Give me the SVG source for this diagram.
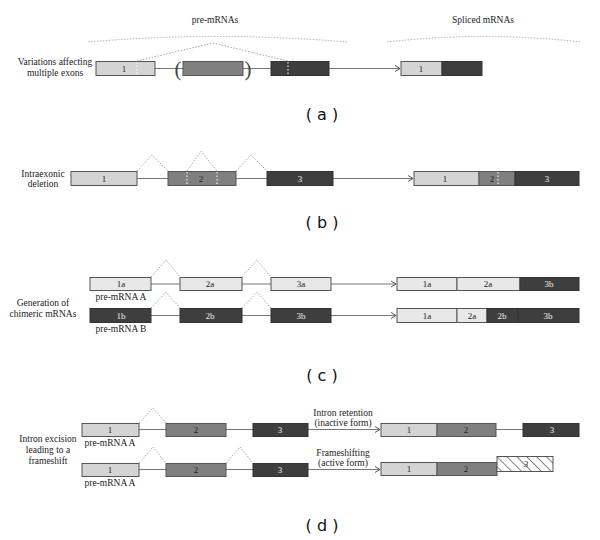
<svg xmlns="http://www.w3.org/2000/svg" width="600" height="540" viewBox="0 0 600 540">
<defs>
<marker id="arr" markerWidth="8" markerHeight="8" refX="6" refY="4" orient="auto" markerUnits="userSpaceOnUse">
<path d="M1,1 L6,4 L1,7" fill="none" stroke="#555" stroke-width="1"/>
</marker>
<pattern id="hatch" patternUnits="userSpaceOnUse" width="7" height="7" patternTransform="rotate(-45)">
<rect width="7" height="7" fill="#fff"/>
<line x1="0" y1="0" x2="0" y2="7" stroke="#333" stroke-width="1.2"/>
</pattern>
</defs>
<style>
.lt{fill:#d4d4d4;stroke:#555;stroke-width:1}
.lt2{fill:#e8e8e8;stroke:#555;stroke-width:1}
.md{fill:#808080;stroke:#555;stroke-width:1}
.dk{fill:#3e3e3e;stroke:#333;stroke-width:1}
.ln{stroke:#777;stroke-width:1;fill:none}
.dot{stroke:#aaa;stroke-width:1;stroke-dasharray:1.5 1.5;fill:none}
.wd{stroke:#fff;stroke-width:1;stroke-dasharray:1.5 2;fill:none}
.t{font-family:"Liberation Serif",serif;font-size:9px;fill:#222;text-anchor:middle}
.tw{font-family:"Liberation Serif",serif;font-size:9px;fill:#eee;text-anchor:middle}
.lb{font-family:"Liberation Serif",serif;font-size:9.5px;fill:#222;text-anchor:middle}
.pl{font-family:"DejaVu Sans",sans-serif;font-size:16px;fill:#111;text-anchor:middle}
.par{font-family:"Liberation Serif",serif;font-size:21px;fill:#444;text-anchor:middle}
</style>

<g id="headers">
<text class="lb" x="215" y="23">pre-mRNAs</text>
<text class="lb" x="483" y="23">Spliced mRNAs</text>
<path class="dot" d="M88,42 Q215,31 348,42"/>
<path class="dot" d="M387,42 Q483,31 581,42"/>
</g>

<g id="connectors">
<!-- row a -->
<line class="ln" x1="155" y1="68.5" x2="183" y2="68.5"/>
<line class="ln" x1="243" y1="68.5" x2="271" y2="68.5"/>
<line class="ln" x1="329" y1="68.5" x2="400" y2="68.5" marker-end="url(#arr)"/>
<polyline class="dot" points="137,61 213,43 288,61"/>
<!-- row b -->
<line class="ln" x1="137" y1="178.5" x2="168" y2="178.5"/>
<line class="ln" x1="236" y1="178.5" x2="267" y2="178.5"/>
<line class="ln" x1="333" y1="178.5" x2="413" y2="178.5" marker-end="url(#arr)"/>
<polyline class="dot" points="137,171 152,155 168,171"/>
<polyline class="dot" points="187,171 201,151 217,171"/>
<polyline class="dot" points="236,171 251,155 267,171"/>
<!-- row c -->
<line class="ln" x1="151" y1="284" x2="180" y2="284"/>
<line class="ln" x1="242" y1="284" x2="271" y2="284"/>
<line class="ln" x1="331" y1="284" x2="396" y2="284" marker-end="url(#arr)"/>
<polyline class="dot" points="151,277 166,260 180,277"/>
<polyline class="dot" points="242,277 257,260 271,277"/>
<line class="ln" x1="151" y1="315.5" x2="180" y2="315.5"/>
<line class="ln" x1="242" y1="315.5" x2="271" y2="315.5"/>
<line class="ln" x1="331" y1="315.5" x2="396" y2="315.5" marker-end="url(#arr)"/>
<polyline class="dot" points="151,308 166,292 180,308"/>
<polyline class="dot" points="242,308 257,292 271,308"/>
<!-- row d -->
<line class="ln" x1="139" y1="429.5" x2="166" y2="429.5"/>
<line class="ln" x1="226" y1="429.5" x2="253" y2="429.5"/>
<line class="ln" x1="308" y1="429.5" x2="380" y2="429.5" marker-end="url(#arr)"/>
<polyline class="dot" points="139,423 153,408 166,423"/>
<line class="ln" x1="496" y1="429.5" x2="523" y2="429.5"/>
<line class="ln" x1="139" y1="469.5" x2="166" y2="469.5"/>
<line class="ln" x1="226" y1="469.5" x2="253" y2="469.5"/>
<line class="ln" x1="308" y1="469.5" x2="380" y2="469.5" marker-end="url(#arr)"/>
<polyline class="dot" points="139,463 153,447 166,463"/>
<polyline class="dot" points="226,463 240,447 253,463"/>
</g>

<!-- panel a -->
<g id="label-a">
<text class="lb" x="55" y="65">Variations affecting</text>
<text class="lb" x="55" y="76">multiple exons</text>
</g>
<g id="a-exon1">
<rect class="lt" x="96" y="61.5" width="59" height="14"/>
<line class="wd" x1="137" y1="62" x2="137" y2="75"/>
<text class="t" x="124" y="72">1</text>
</g>
<g id="a-exon2">
<text class="par" x="178" y="76">(</text>
<rect class="md" x="183" y="61.5" width="60" height="14"/>
<text class="par" x="248" y="76">)</text>
</g>
<g id="a-exon3">
<rect class="dk" x="271" y="61.5" width="58" height="14"/>
<line class="wd" x1="288" y1="62" x2="288" y2="75"/>
</g>
<g id="a-spliced">
<rect class="lt" x="401" y="61.5" width="41" height="14"/>
<rect class="dk" x="442" y="61.5" width="40" height="14"/>
<text class="t" x="421" y="72">1</text>
</g>
<g id="caption-a"><text class="pl" x="322" y="120">( a )</text></g>

<!-- panel b -->
<g id="label-b">
<text class="lb" x="43" y="177">Intraexonic</text>
<text class="lb" x="43" y="187">deletion</text>
</g>
<g id="b-exon1">
<rect class="lt" x="71" y="171.5" width="66" height="14"/>
<text class="t" x="104" y="182">1</text>
</g>
<g id="b-exon2">
<rect class="md" x="168" y="171.5" width="68" height="14"/>
<line class="wd" x1="187" y1="172" x2="187" y2="185"/>
<line class="wd" x1="217" y1="172" x2="217" y2="185"/>
<text class="t" x="201" y="182">2</text>
</g>
<g id="b-exon3">
<rect class="dk" x="267" y="171.5" width="66" height="14"/>
<text class="tw" x="300" y="182">3</text>
</g>
<g id="b-spliced">
<rect class="lt" x="414" y="171.5" width="65" height="14"/>
<rect class="md" x="479" y="171.5" width="36" height="14"/>
<rect class="dk" x="515" y="171.5" width="64" height="14"/>
<line class="wd" x1="498" y1="172" x2="498" y2="185"/>
<text class="t" x="445" y="182">1</text>
<text class="t" x="492" y="182">2</text>
<text class="tw" x="547" y="182">3</text>
</g>
<g id="caption-b"><text class="pl" x="322" y="228">( b )</text></g>

<!-- panel c -->
<g id="label-c">
<text class="lb" x="43" y="306">Generation of</text>
<text class="lb" x="43" y="317">chimeric mRNAs</text>
</g>
<g id="c-1a">
<rect class="lt2" x="90" y="277.5" width="61" height="13"/>
<text class="t" x="121" y="287">1a</text>
<text class="lb" x="121" y="300">pre-mRNA A</text>
</g>
<g id="c-2a">
<rect class="lt2" x="180" y="277.5" width="62" height="13"/>
<text class="t" x="210" y="287">2a</text>
</g>
<g id="c-3a">
<rect class="lt2" x="271" y="277.5" width="60" height="13"/>
<text class="t" x="301" y="287">3a</text>
</g>
<g id="c-1b">
<rect class="dk" x="90" y="308.5" width="61" height="14"/>
<text class="tw" x="121" y="319">1b</text>
<text class="lb" x="121" y="332">pre-mRNA B</text>
</g>
<g id="c-2b">
<rect class="dk" x="180" y="308.5" width="62" height="14"/>
<text class="tw" x="210" y="319">2b</text>
</g>
<g id="c-3b">
<rect class="dk" x="271" y="308.5" width="60" height="14"/>
<text class="tw" x="301" y="319">3b</text>
</g>
<g id="c-spliced1">
<rect class="lt2" x="397" y="277.5" width="60" height="13"/>
<rect class="lt2" x="457" y="277.5" width="63" height="13"/>
<rect class="dk" x="520" y="277.5" width="59" height="13"/>
<text class="t" x="427" y="287">1a</text>
<text class="t" x="488" y="287">2a</text>
<text class="tw" x="549" y="287">3b</text>
</g>
<g id="c-spliced2">
<rect class="lt2" x="397" y="308.5" width="60" height="14"/>
<rect class="lt2" x="457" y="308.5" width="30" height="14"/>
<rect class="dk" x="487" y="308.5" width="31" height="14"/>
<rect class="dk" x="518" y="308.5" width="61" height="14"/>
<text class="t" x="427" y="319">1a</text>
<text class="t" x="472" y="319">2a</text>
<text class="tw" x="502" y="319">2b</text>
<text class="tw" x="548" y="319">3b</text>
</g>
<g id="caption-c"><text class="pl" x="322" y="381">( c )</text></g>

<!-- panel d -->
<g id="label-d">
<text class="lb" x="48" y="442">Intron excision</text>
<text class="lb" x="48" y="453">leading to a</text>
<text class="lb" x="48" y="464">frameshift</text>
</g>
<g id="d1-exon1">
<rect class="lt" x="82" y="423.5" width="57" height="13"/>
<text class="t" x="110" y="433">1</text>
<text class="lb" x="110" y="446">pre-mRNA A</text>
</g>
<g id="d1-exon2">
<rect class="md" x="166" y="423.5" width="60" height="13"/>
<text class="t" x="196" y="433">2</text>
</g>
<g id="d1-exon3">
<rect class="dk" x="253" y="423.5" width="55" height="13"/>
<text class="tw" x="280" y="433">3</text>
</g>
<g id="d1-arrowlabel">
<text class="lb" x="343" y="416">Intron retention</text>
<text class="lb" x="343" y="426">(inactive form)</text>
</g>
<g id="d1-result">
<rect class="lt" x="381" y="423.5" width="56" height="13"/>
<rect class="md" x="437" y="423.5" width="59" height="13"/>
<rect class="dk" x="523" y="423.5" width="56" height="13"/>
<text class="t" x="409" y="433">1</text>
<text class="t" x="466" y="433">2</text>
<text class="tw" x="552" y="433">3</text>
</g>
<g id="d2-exon1">
<rect class="lt" x="82" y="463.5" width="57" height="13"/>
<text class="t" x="110" y="473">1</text>
<text class="lb" x="110" y="486">pre-mRNA A</text>
</g>
<g id="d2-exon2">
<rect class="md" x="166" y="463.5" width="60" height="13"/>
<text class="t" x="196" y="473">2</text>
</g>
<g id="d2-exon3">
<rect class="dk" x="253" y="463.5" width="55" height="13"/>
<text class="tw" x="280" y="473">3</text>
</g>
<g id="d2-arrowlabel">
<text class="lb" x="343" y="456">Frameshifting</text>
<text class="lb" x="343" y="466">(active form)</text>
</g>
<g id="d2-result">
<rect class="lt" x="381" y="462.5" width="56" height="13"/>
<rect class="md" x="437" y="462.5" width="60" height="13"/>
<text class="t" x="409" y="472">1</text>
<text class="t" x="466" y="472">2</text>
<rect x="497" y="456.5" width="56" height="15" fill="url(#hatch)" stroke="#555" stroke-width="1"/>
<text class="t" x="526" y="467" font-style="italic">3</text>
</g>
<g id="caption-d"><text class="pl" x="322" y="531">( d )</text></g>
</svg>
